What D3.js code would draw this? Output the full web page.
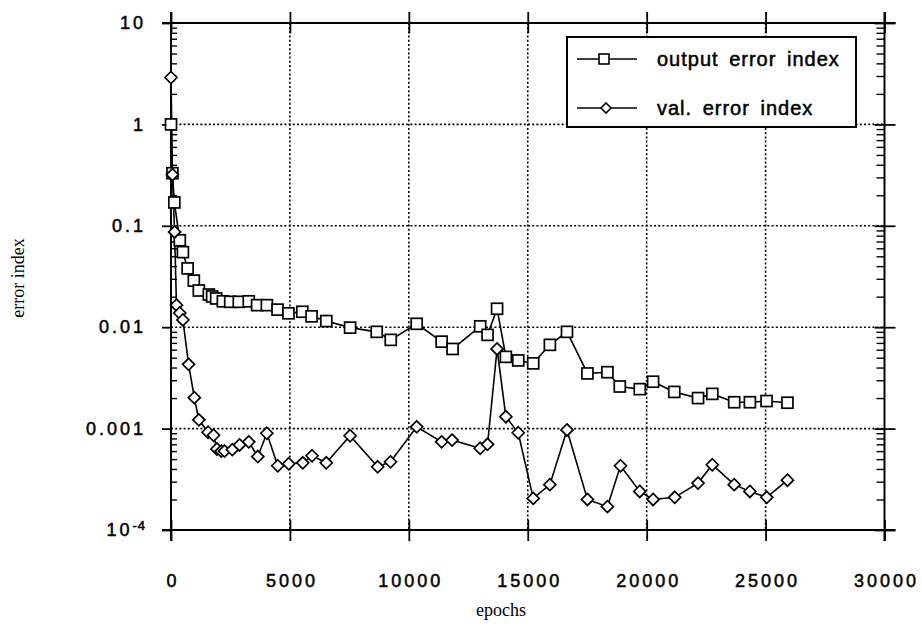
<!DOCTYPE html>
<html>
<head>
<meta charset="utf-8">
<script src="https://cdn.jsdelivr.net/npm/d3@7"></script>
<style>
  html, body { margin: 0; padding: 0; background: #fff; }
  svg { display: block; }
</style>
</head>
<body>
<svg id="chart" width="922" height="631"></svg>
<script>
// ---------- data ----------
const outputEpochs = [0, 60, 140, 370, 500, 700, 960, 1170, 1590, 1730, 1900, 2180, 2490, 2850, 3270, 3620, 4030, 4480, 4940, 5520, 5910, 6530, 7530, 8650, 9240, 10330, 11380, 11840, 13000, 13310, 13710, 14080, 14600, 15230, 15930, 16650, 17510, 18350, 18870, 19710, 20270, 21160, 22160, 22760, 23680, 24340, 25040, 25920];
const outputValues = [1.0, 0.33, 0.17, 0.072, 0.055, 0.038, 0.0288, 0.023, 0.021, 0.0201, 0.0192, 0.018, 0.0178, 0.0178, 0.018, 0.0165, 0.0165, 0.0149, 0.0137, 0.0142, 0.0128, 0.0115, 0.0099, 0.009, 0.0075, 0.0108, 0.0072, 0.0061, 0.0102, 0.0084, 0.0152, 0.0051, 0.0047, 0.0044, 0.0067, 0.009, 0.0035, 0.0036, 0.0026, 0.00245, 0.0029, 0.0023, 0.002, 0.0022, 0.00182, 0.00182, 0.00187, 0.0018];

const valEpochs = [0, 60, 150, 230, 370, 500, 740, 980, 1170, 1560, 1790, 1930, 2110, 2250, 2580, 2880, 3270, 3650, 4030, 4490, 4950, 5540, 5930, 6530, 7530, 8690, 9230, 10330, 11380, 11820, 13000, 13310, 13710, 14080, 14600, 15230, 15930, 16650, 17510, 18350, 18900, 19710, 20270, 21180, 22160, 22760, 23680, 24340, 25050, 25920];
const valValues = [2.9, 0.32, 0.087, 0.0165, 0.0138, 0.0118, 0.0043, 0.00202, 0.00122, 0.00092, 0.00086, 0.00063, 0.0006, 0.0006, 0.00062, 0.00069, 0.00074, 0.00053, 0.0009, 0.00043, 0.00045, 0.00046, 0.00054, 0.00046, 0.00085, 0.00042, 0.00047, 0.00104, 0.00074, 0.00077, 0.00064, 0.0007, 0.0061, 0.00131, 0.00091, 0.000205, 0.00028, 0.00097, 0.0002, 0.00017, 0.00043, 0.00024, 0.0002, 0.00021, 0.00029, 0.00044, 0.00028, 0.00024, 0.00021, 0.00031];

const xTickValues = [0, 5000, 10000, 15000, 20000, 25000, 30000];
const yTickValues = [10, 1, 0.1, 0.01, 0.001, 0.0001];
const yTickLabels = ["10", "1", "0.1", "0.01", "0.001", "10-4"];
const seriesNames = ["output error index", "val. error index"];
const xTitle = "epochs";
const yTitle = "error index";

// ---------- layout ----------
const svg = d3.select("#chart");
const L = 171, R = 884.5, T = 23, B = 530;
const x = d3.scaleLinear().domain([0, 30000]).range([L, R]);
const y = d3.scaleLog().domain([1e-4, 10]).range([B, T]);

const sans = "'Liberation Sans', Arial, Helvetica, sans-serif";
const serif = "'Liberation Serif', 'Times New Roman', serif";

// grid (dotted)
const grid = svg.append("g").attr("stroke", "#000").attr("stroke-width", 1.6).attr("stroke-dasharray", "2,2.2");
xTickValues.filter(v => v > 0 && v < 30000).forEach(v => {
  grid.append("line").attr("x1", x(v)).attr("x2", x(v)).attr("y1", T).attr("y2", B);
});
yTickValues.filter(v => v < 10 && v > 1e-4).forEach(v => {
  grid.append("line").attr("x1", L).attr("x2", R).attr("y1", y(v)).attr("y2", y(v));
});

// x axis (bottom)
const xAxis = d3.axisBottom(x).tickValues(xTickValues).tickSize(11).tickSizeOuter(0).tickPadding(33)
  .tickFormat(d3.format("d"));
const gx = svg.append("g").attr("transform", `translate(0,${B})`).call(xAxis);
gx.select(".domain").remove();
gx.selectAll(".tick line").attr("stroke-width", 1.8).attr("y1", -10);
gx.selectAll(".tick text").attr("font-family", sans).attr("font-size", 18).attr("letter-spacing", 3)
  .attr("fill", "#000").attr("stroke", "#000").attr("stroke-width", 0.5).attr("dx", 1.5);

// x axis top ticks
const xAxisTop = d3.axisTop(x).tickValues(xTickValues).tickSize(11).tickSizeOuter(0).tickFormat("");
const gxt = svg.append("g").attr("transform", `translate(0,${T})`).call(xAxisTop);
gxt.select(".domain").remove();
gxt.selectAll(".tick line").attr("stroke-width", 1.8).attr("y1", 10);

// y axis (left)
const yAxis = d3.axisLeft(y).tickValues(yTickValues).tickSize(9).tickSizeOuter(0).tickPadding(16)
  .tickFormat((d, i) => yTickLabels[i]);
const gy = svg.append("g").attr("transform", `translate(${L},0)`).call(yAxis);
gy.select(".domain").remove();
gy.selectAll(".tick line").attr("stroke-width", 1.8);
gy.selectAll(".tick text").attr("font-family", sans).attr("font-size", 18).attr("letter-spacing", 3)
  .attr("fill", "#000").attr("stroke", "#000").attr("stroke-width", 0.5);
// superscript label for 10^-4
gy.selectAll(".tick text").filter((d, i) => yTickLabels[i] === "10-4").each(function () {
  const t = d3.select(this);
  t.text(null);
  t.append("tspan").text("10");
  t.append("tspan").attr("dy", "-0.45em").attr("font-size", 13).attr("letter-spacing", 1).text("-4");
});

// minor log ticks
const minor = [];
for (let k = -4; k <= 0; k++) for (let m = 2; m <= 9; m++) minor.push(m * Math.pow(10, k));
const yMinorL = d3.axisRight(y).tickValues(minor).tickSize(6).tickFormat("");
const gml = svg.append("g").attr("transform", `translate(${L},0)`).call(yMinorL);
gml.select(".domain").remove();
gml.selectAll(".tick line").attr("stroke-width", 1.4);
const yMinorR = d3.axisLeft(y).tickValues(minor).tickSize(8).tickFormat("");
const gmr = svg.append("g").attr("transform", `translate(${R},0)`).call(yMinorR);
gmr.select(".domain").remove();
gmr.selectAll(".tick line").attr("stroke-width", 1.4);
// right major ticks (both sides)
const yMajorR = d3.axisRight(y).tickValues(yTickValues).tickSize(11).tickFormat("");
const gmj = svg.append("g").attr("transform", `translate(${R},0)`).call(yMajorR);
gmj.select(".domain").remove();
gmj.selectAll(".tick line").attr("stroke-width", 1.8).attr("x1", -10);

// frame
const frame = svg.append("g").attr("stroke", "#000").attr("stroke-width", 2);
frame.append("line").attr("x1", L).attr("x2", L).attr("y1", T - 11).attr("y2", B + 11);
frame.append("line").attr("x1", R).attr("x2", R).attr("y1", T - 11).attr("y2", B + 11);
frame.append("line").attr("x1", L - 9).attr("x2", R + 11).attr("y1", T).attr("y2", T);
frame.append("line").attr("x1", L - 9).attr("x2", R + 11).attr("y1", B).attr("y2", B);

// ---------- series ----------
const outData = outputEpochs.map((e, i) => [e, outputValues[i]]);
const valData = valEpochs.map((e, i) => [e, valValues[i]]);
const line = d3.line().x(d => x(d[0])).y(d => y(d[1]));

svg.append("path").datum(outData).attr("d", line).attr("fill", "none").attr("stroke", "#000").attr("stroke-width", 1.6);
svg.append("path").datum(valData).attr("d", line).attr("fill", "none").attr("stroke", "#000").attr("stroke-width", 1.6);

const sq = 11;
svg.append("g").selectAll("rect").data(outData).join("rect")
  .attr("x", d => x(d[0]) - sq / 2).attr("y", d => y(d[1]) - sq / 2)
  .attr("width", sq).attr("height", sq)
  .attr("fill", "#fff").attr("stroke", "#000").attr("stroke-width", 1.7);

const dm = 6;
const diamond = (cx, cy, r) => `M${cx},${cy - r}L${cx + r},${cy}L${cx},${cy + r}L${cx - r},${cy}Z`;
svg.append("g").selectAll("path").data(valData).join("path")
  .attr("d", d => diamond(x(d[0]), y(d[1]), dm))
  .attr("fill", "#fff").attr("stroke", "#000").attr("stroke-width", 1.7);

// ---------- legend ----------
const lg = svg.append("g");
lg.append("rect").attr("x", 567).attr("y", 37).attr("width", 289).attr("height", 90)
  .attr("fill", "#fff").attr("stroke", "#000").attr("stroke-width", 2);
const legendRows = [
  { name: seriesNames[0], yy: 59, kind: "square" },
  { name: seriesNames[1], yy: 108, kind: "diamond" }
];
legendRows.forEach(r => {
  lg.append("line").attr("x1", 577).attr("x2", 637).attr("y1", r.yy).attr("y2", r.yy)
    .attr("stroke", "#000").attr("stroke-width", 1.6);
  if (r.kind === "square") {
    lg.append("rect").attr("x", 604 - 5).attr("y", r.yy - 5).attr("width", 10).attr("height", 10)
      .attr("fill", "#fff").attr("stroke", "#000").attr("stroke-width", 1.6);
  } else {
    lg.append("path").attr("d", diamond(606, r.yy, 5))
      .attr("fill", "#fff").attr("stroke", "#000").attr("stroke-width", 1.6);
  }
  lg.append("text").attr("x", 657).attr("y", r.yy + 7).attr("font-family", sans).attr("font-size", 20)
    .attr("letter-spacing", 1).attr("word-spacing", 4).attr("fill", "#000")
    .attr("stroke", "#000").attr("stroke-width", 0.5).text(r.name);
});

// ---------- titles ----------
svg.append("text").attr("x", 501).attr("y", 616).attr("text-anchor", "middle")
  .attr("font-family", serif).attr("font-size", 18).attr("fill", "#000").text(xTitle);
svg.append("text").attr("transform", "translate(24,278) rotate(-90)").attr("text-anchor", "middle")
  .attr("font-family", serif).attr("font-size", 18).attr("fill", "#000").text(yTitle);
</script>
</body>
</html>
